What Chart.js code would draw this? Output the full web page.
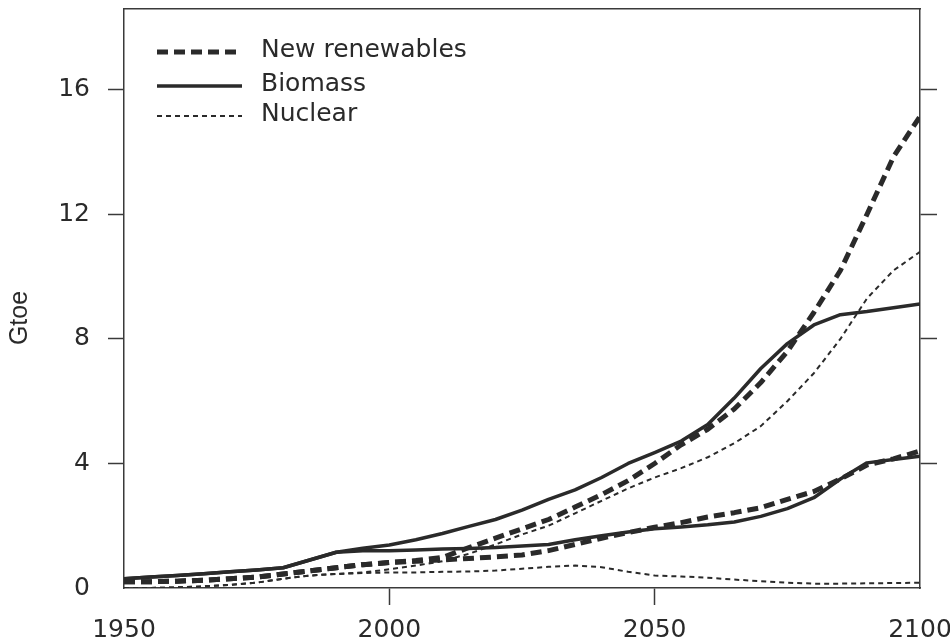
<!DOCTYPE html>
<html>
<head>
<meta charset="utf-8">
<script src="https://cdn.jsdelivr.net/npm/chart.js@4.4.1/dist/chart.umd.min.js"></script>
<style>
  html, body { margin: 0; padding: 0; background: #ffffff; }
  #wrap { width: 950px; height: 644px; }
  canvas { display: block; }
</style>
</head>
<body>
<div id="wrap"><canvas id="energy" width="950" height="644"></canvas></div>
<script>
// Primary energy from non-fossil sources, two scenarios (Gtoe)
const years = [1950, 1955, 1960, 1965, 1970, 1975, 1980, 1985, 1990, 1995,
               2000, 2005, 2010, 2015, 2020, 2025, 2030, 2035, 2040, 2045,
               2050, 2055, 2060, 2065, 2070, 2075, 2080, 2085, 2090, 2095, 2100];

// High scenario
const renewablesHigh = [0.2, 0.2, 0.22, 0.25, 0.3, 0.35, 0.45, 0.55, 0.65, 0.75,
                        0.82, 0.88, 0.98, 1.3, 1.6, 1.9, 2.2, 2.6, 3.0, 3.45,
                        4.0, 4.6, 5.1, 5.75, 6.6, 7.6, 8.85, 10.2, 12.0, 13.85, 15.15];
const biomassHigh = [0.3, 0.35, 0.4, 0.46, 0.52, 0.58, 0.65, 0.9, 1.15, 1.28,
                     1.38, 1.55, 1.75, 1.98, 2.2, 2.5, 2.85, 3.15, 3.55, 4.0,
                     4.35, 4.72, 5.25, 6.1, 7.05, 7.85, 8.45, 8.78, 8.88, 9.0, 9.12];
const nuclearHigh = [0, 0, 0.02, 0.05, 0.1, 0.17, 0.3, 0.4, 0.45, 0.5,
                     0.6, 0.72, 0.86, 1.1, 1.4, 1.72, 2.0, 2.4, 2.8, 3.2,
                     3.55, 3.85, 4.2, 4.65, 5.2, 6.0, 6.9, 8.0, 9.3, 10.2, 10.8];

// Low scenario
const renewablesLow = [0.2, 0.2, 0.22, 0.25, 0.3, 0.35, 0.45, 0.55, 0.65, 0.75,
                       0.82, 0.86, 0.9, 0.95, 1.0, 1.06, 1.2, 1.4, 1.6, 1.78,
                       1.95, 2.1, 2.28, 2.42, 2.58, 2.85, 3.1, 3.5, 3.95, 4.15, 4.4];
const biomassLow = [0.3, 0.35, 0.4, 0.46, 0.52, 0.58, 0.65, 0.9, 1.15, 1.2,
                    1.2, 1.22, 1.25, 1.27, 1.3, 1.35, 1.4, 1.55, 1.68, 1.8,
                    1.9, 1.96, 2.03, 2.12, 2.3, 2.55, 2.9, 3.5, 4.02, 4.13, 4.23];
const nuclearLow = [0, 0, 0.02, 0.05, 0.1, 0.17, 0.3, 0.4, 0.45, 0.48,
                    0.5, 0.5, 0.52, 0.53, 0.56, 0.62, 0.68, 0.72, 0.67, 0.52,
                    0.4, 0.37, 0.33, 0.27, 0.22, 0.17, 0.14, 0.14, 0.15, 0.16, 0.17];

const seriesNames = ['New renewables', 'Biomass', 'Nuclear'];
const xTicks = [1950, 2000, 2050, 2100];
const yTicks = [0, 4, 8, 12, 16];
const yAxisTitle = 'Gtoe';

const INK = '#2a2a2a';
const AXIS = '#3a3a3a';
const TRANSPARENT = 'rgba(0,0,0,0)';
const LABEL_FONT = { family: '"DejaVu Sans", sans-serif', size: 25 };

const lineStyles = [
  { borderWidth: 5, borderDash: [11, 6] },   // new renewables
  { borderWidth: 3.5, borderDash: [] },      // biomass
  { borderWidth: 2, borderDash: [5, 4] }     // nuclear
];

function series(nameIndex, values) {
  const st = lineStyles[nameIndex];
  return {
    label: seriesNames[nameIndex],
    data: values.map((v, i) => ({ x: years[i], y: v })),
    borderColor: INK,
    backgroundColor: INK,
    borderWidth: st.borderWidth,
    borderDash: st.borderDash,
    borderCapStyle: 'butt',
    borderJoinStyle: 'round',
    pointRadius: 0,
    pointHoverRadius: 0,
    tension: 0,
    fill: false
  };
}

// corner ticks are left off; the frame already marks those ends
const cornerTick = (lo, hi) => ctx =>
  (ctx.tick && (ctx.tick.value === lo || ctx.tick.value === hi)) ? TRANSPARENT : AXIS;

const useTicks = list => scale => { scale.ticks = list.map(v => ({ value: v })); };

// legend drawn inside the plot frame, plus the rotated unit label
const insetLegend = {
  id: 'insetLegend',
  afterDraw(chart, args, opts) {
    const { ctx, chartArea } = chart;
    ctx.save();
    opts.rows.forEach((dy, i) => {
      const ds = chart.data.datasets[i];
      const y = chartArea.top + dy;
      ctx.strokeStyle = ds.borderColor;
      ctx.lineWidth = ds.borderWidth;
      ctx.setLineDash(ds.borderDash);
      ctx.lineCap = 'butt';
      ctx.beginPath();
      ctx.moveTo(chartArea.left + opts.lineStart, y);
      ctx.lineTo(chartArea.left + opts.lineEnd, y);
      ctx.stroke();
      ctx.setLineDash([]);
      ctx.fillStyle = INK;
      ctx.font = `${LABEL_FONT.size}px ${LABEL_FONT.family}`;
      ctx.textAlign = 'left';
      ctx.textBaseline = 'middle';
      ctx.fillText(ds.label, chartArea.left + opts.textStart, y + opts.textShift);
    });
    ctx.translate(opts.titleX, opts.titleY);
    ctx.rotate(-Math.PI / 2);
    ctx.fillStyle = INK;
    ctx.font = '25px "Liberation Sans", Arial, sans-serif';
    ctx.textAlign = 'center';
    ctx.textBaseline = 'middle';
    ctx.fillText(yAxisTitle, 0, 0);
    ctx.restore();
  }
};

const fitVertical = width => s => { s.width = width; s.paddingTop = 0; s.paddingBottom = 0; };
const fitHorizontal = height => s => { s.height = height; s.paddingLeft = 0; s.paddingRight = 0; };

new Chart(document.getElementById('energy'), {
  type: 'line',
  data: {
    datasets: [
      series(0, renewablesHigh),
      series(1, biomassHigh),
      series(2, nuclearHigh),
      series(0, renewablesLow),
      series(1, biomassLow),
      series(2, nuclearLow)
    ]
  },
  options: {
    responsive: false,
    devicePixelRatio: 1,
    animation: false,
    layout: { padding: 0 },
    plugins: {
      legend: { display: false },
      tooltip: { enabled: false },
      insetLegend: {
        rows: [43, 77, 107],
        lineStart: 33,
        lineEnd: 118,
        textStart: 137,
        textShift: -2,
        titleX: 20,
        titleY: 318
      }
    },
    scales: {
      x: {
        type: 'linear',
        position: 'bottom',
        min: 1950,
        max: 2100,
        afterBuildTicks: useTicks(xTicks),
        afterFit: fitHorizontal(56),
        grid: {
          drawOnChartArea: false,
          drawTicks: true,
          tickLength: 17,
          tickWidth: 1.5,
          tickColor: cornerTick(1950, 2100)
        },
        border: { display: true, color: AXIS, width: 1.5 },
        ticks: {
          font: LABEL_FONT,
          color: INK,
          padding: 10,
          maxRotation: 0,
          autoSkip: false,
          callback: v => String(v)
        }
      },
      xTop: {
        type: 'linear',
        position: 'top',
        min: 1950,
        max: 2100,
        afterFit: fitHorizontal(9),
        grid: { drawOnChartArea: false, drawTicks: false },
        border: { display: true, color: AXIS, width: 1.5 },
        ticks: { display: false }
      },
      y: {
        type: 'linear',
        position: 'left',
        min: 0,
        max: 18.6,
        afterBuildTicks: useTicks(yTicks),
        afterFit: fitVertical(124),
        grid: {
          drawOnChartArea: false,
          drawTicks: true,
          tickLength: 16,
          tickWidth: 1.5,
          tickColor: cornerTick(0, 18.6)
        },
        border: { display: true, color: AXIS, width: 1.5 },
        ticks: {
          font: LABEL_FONT,
          color: INK,
          padding: 18,
          callback: v => String(v)
        }
      },
      yRight: {
        type: 'linear',
        position: 'right',
        min: 0,
        max: 18.6,
        afterBuildTicks: useTicks(yTicks),
        afterFit: fitVertical(30),
        grid: {
          drawOnChartArea: false,
          drawTicks: true,
          tickLength: 17,
          tickWidth: 1.5,
          tickColor: cornerTick(0, 18.6)
        },
        border: { display: true, color: AXIS, width: 1.5 },
        ticks: { display: false }
      }
    }
  },
  plugins: [insetLegend]
});
</script>
</body>
</html>
